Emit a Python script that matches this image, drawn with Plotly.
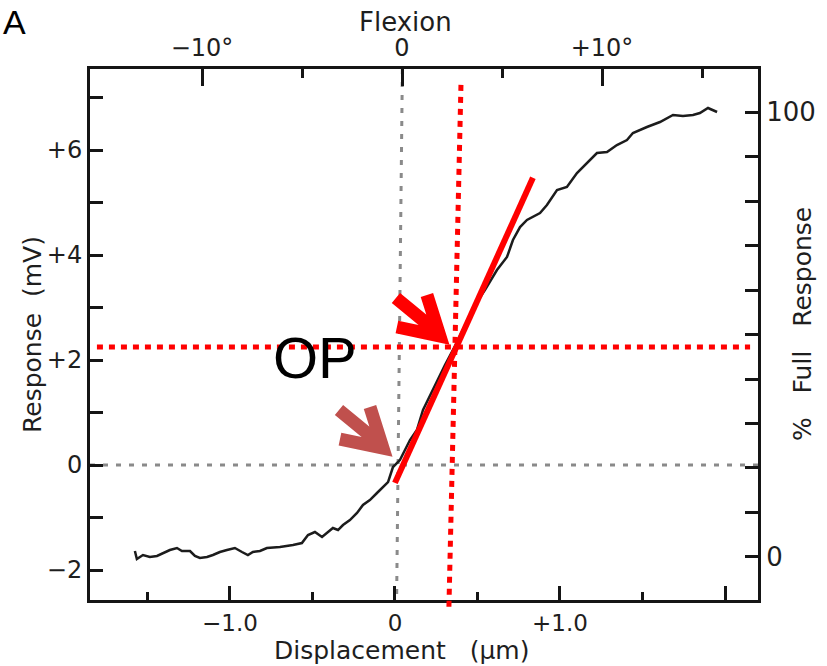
import plotly.graph_objects as go

# ---------------- data ----------------
disp_um = [-1.576, -1.564, -1.527, -1.485, -1.442, -1.406, -1.364, -1.321, -1.291, -1.242,
           -1.212, -1.182, -1.139, -1.103, -1.061, -1.018, -0.970, -0.927, -0.891, -0.861,
           -0.818, -0.776, -0.697, -0.618, -0.564, -0.527, -0.485, -0.442, -0.406, -0.376,
           -0.345, -0.315, -0.273, -0.230, -0.194, -0.152, -0.109, -0.073, -0.042, -0.012,
           0.030, 0.091, 0.133, 0.170, 0.242, 0.303, 0.364, 0.424, 0.485, 0.545,
           0.618, 0.679, 0.715, 0.758, 0.800, 0.879, 0.921, 0.982, 1.042, 1.103,
           1.164, 1.224, 1.285, 1.345, 1.406, 1.442, 1.527, 1.606, 1.685, 1.745,
           1.806, 1.848, 1.897, 1.952]
resp_mv = [-1.638, -1.790, -1.714, -1.752, -1.733, -1.676, -1.619, -1.581, -1.638, -1.638,
           -1.733, -1.771, -1.752, -1.714, -1.657, -1.619, -1.581, -1.657, -1.714, -1.657,
           -1.638, -1.581, -1.562, -1.524, -1.486, -1.333, -1.276, -1.371, -1.276, -1.200,
           -1.238, -1.143, -1.048, -0.914, -0.762, -0.667, -0.533, -0.419, -0.324, -0.038,
           0.095, 0.476, 0.667, 1.048, 1.524, 1.905, 2.267, 2.667, 3.048, 3.333,
           3.714, 3.962, 4.286, 4.533, 4.667, 4.800, 4.952, 5.238, 5.295, 5.562,
           5.752, 5.943, 5.962, 6.095, 6.190, 6.324, 6.438, 6.533, 6.667, 6.648,
           6.667, 6.705, 6.800, 6.724]

tangent_x = [0.0, 0.836]
tangent_y = [-0.34, 5.47]

op_y = 2.25
op_hline_x = [-1.806, 2.152]
op_vline_x = [0.40, 0.327]          # top, bottom (slightly slanted in the scan)
zero_vline_x = [0.045, 0.01]        # top, bottom

op_label_x = -0.485
op_label_y = 2.04

arrow_tip_x = [0.333, -0.012]
arrow_tip_y = [2.324, 0.19]
arrow_colors = ["#FF0000", "#C0504D"]

x_range = [-1.848, 2.2]
y_range = [-2.571, 7.543]
flex_range = [-15.6, 17.8]
pct0_mv, pct100_mv = -1.75, 6.72

x_ticks = [-1, 0, 1, 2]
x_ticktext = ["\u22121.0", "0", "+1.0", ""]
x_minor = [-1.5, -0.5, 0.5, 1.5]
y_ticks = list(range(-2, 8))
y_ticktext = ["\u22122", "", "0", "", "+2", "", "+4", "", "+6", ""]
flex_ticks = [-10, 0, 10]
flex_ticktext = ["\u221210\u00b0", "0", "+10\u00b0"]
flex_minor = [-5, 5, 15]
pct_ticks = list(range(0, 101, 10))
pct_ticktext = ["0"] + [""] * 9 + ["100"]

# ---------------- figure ----------------
W, H = 827, 666
ML, MR, MT, MB = 90, 69, 69, 66
PW, PH = W - ML - MR, H - MT - MB
FONT = "DejaVu Sans"
TXT = "#1e1e1e"
AX = "#151515"


def px_x(p):
    return (p - ML) / PW


def px_y(p):
    return (H - MB - p) / PH


fig = go.Figure()
fig.add_trace(go.Scatter(x=disp_um, y=resp_mv, mode="lines",
                         line=dict(color="#1c1c1c", width=2.5), showlegend=False))
fig.add_trace(go.Scatter(x=tangent_x, y=tangent_y, mode="lines",
                         line=dict(color="#FF0000", width=6), showlegend=False))
fig.add_trace(go.Scatter(x=[None], y=[None], xaxis="x2", yaxis="y2", showlegend=False))

pct_range = [(v - pct0_mv) / (pct100_mv - pct0_mv) * 100 for v in y_range]

common = dict(showline=True, linecolor=AX, linewidth=3, showgrid=False, zeroline=False,
              ticks="inside", tickcolor=AX, tickwidth=2.5)

fig.update_layout(
    width=W, height=H, autosize=False,
    margin=dict(l=ML, r=MR, t=MT, b=MB),
    paper_bgcolor="white", plot_bgcolor="white",
    showlegend=False,
    xaxis=dict(range=x_range, tickmode="array", tickvals=x_ticks, ticktext=x_ticktext,
               ticklen=14, minor=dict(tickvals=x_minor, ticklen=8, ticks="inside",
                                      tickcolor=AX, tickwidth=2.5),
               tickfont=dict(family=FONT, size=23, color=TXT), **common),
    xaxis2=dict(range=flex_range, overlaying="x", side="top", tickmode="array",
                tickvals=flex_ticks, ticktext=flex_ticktext, ticklen=17,
                minor=dict(tickvals=flex_minor, ticklen=9, ticks="inside",
                           tickcolor=AX, tickwidth=2.5),
                tickfont=dict(family=FONT, size=24, color=TXT), **common),
    yaxis=dict(range=y_range, tickmode="array", tickvals=y_ticks, ticktext=y_ticktext,
               ticklen=13, tickfont=dict(family=FONT, size=24, color=TXT), **common),
    yaxis2=dict(range=pct_range, overlaying="y", side="right", tickmode="array",
                tickvals=pct_ticks, ticktext=pct_ticktext, ticklen=13,
                tickfont=dict(family=FONT, size=26, color=TXT), **common),
)

# reference lines
dot_gray = dict(color="#8a8a8a", width=3, dash="5px,8px")
dot_red = dict(color="#FF0000", width=5, dash="6px,6px")
fig.add_shape(type="line", xref="x", yref="y", x0=x_range[0], x1=x_range[1], y0=0, y1=0,
              line=dot_gray, layer="below")
fig.add_shape(type="line", xref="x", yref="y domain", x0=zero_vline_x[0], x1=zero_vline_x[1],
              y0=1, y1=0, line=dot_gray, layer="below")
fig.add_shape(type="line", xref="x", yref="y", x0=op_hline_x[0], x1=op_hline_x[1],
              y0=op_y, y1=op_y, line=dot_red, layer="above")
fig.add_shape(type="line", xref="x", yref="y domain", x0=op_vline_x[0], x1=op_vline_x[1],
              y0=0.970, y1=-0.013, line=dot_red, layer="above")

# arrows (geometry in pixels relative to the tip; y up)
for tx, ty, col in zip(arrow_tip_x, arrow_tip_y, arrow_colors):
    path = ("M -54,45 L -9,8 "
            "M -23,48 L -10,7 L -53,16")
    fig.add_shape(type="path", xref="x", yref="y", xsizemode="pixel", ysizemode="pixel",
                  xanchor=tx, yanchor=ty, path=path,
                  line=dict(color=col, width=13), layer="above")

# texts
fig.add_annotation(x=px_x(1), y=px_y(1), xref="paper", yref="paper", text="A",
                   showarrow=False, font=dict(family="Liberation Sans", size=34, color="black"),
                   xanchor="left", yanchor="top")
fig.add_annotation(x=op_label_x, y=op_label_y, xref="x", yref="y", text="OP", showarrow=False,
                   font=dict(family="Liberation Sans", size=58, color="black"),
                   xanchor="center", yanchor="middle")
fig.add_annotation(x=px_x(405), y=px_y(22), xref="paper", yref="paper", text="Flexion",
                   showarrow=False, font=dict(family=FONT, size=26, color=TXT),
                   xanchor="center", yanchor="middle")
fig.add_annotation(x=px_x(401), y=px_y(650), xref="paper", yref="paper",
                   text="Displacement\u00a0\u00a0 (\u00b5m)",
                   showarrow=False, font=dict(family=FONT, size=25, color=TXT),
                   xanchor="center", yanchor="middle")
fig.add_annotation(x=px_x(32), y=px_y(335), xref="paper", yref="paper",
                   text="Response\u00a0 (mV)", textangle=-90,
                   showarrow=False, font=dict(family=FONT, size=25, color=TXT),
                   xanchor="center", yanchor="middle")
fig.add_annotation(x=px_x(802), y=px_y(324), xref="paper", yref="paper",
                   text="%\u00a0\u00a0 Full\u00a0\u00a0 Response", textangle=-90,
                   showarrow=False, font=dict(family=FONT, size=25, color=TXT),
                   xanchor="center", yanchor="middle")

fig.write_html("out.html")
